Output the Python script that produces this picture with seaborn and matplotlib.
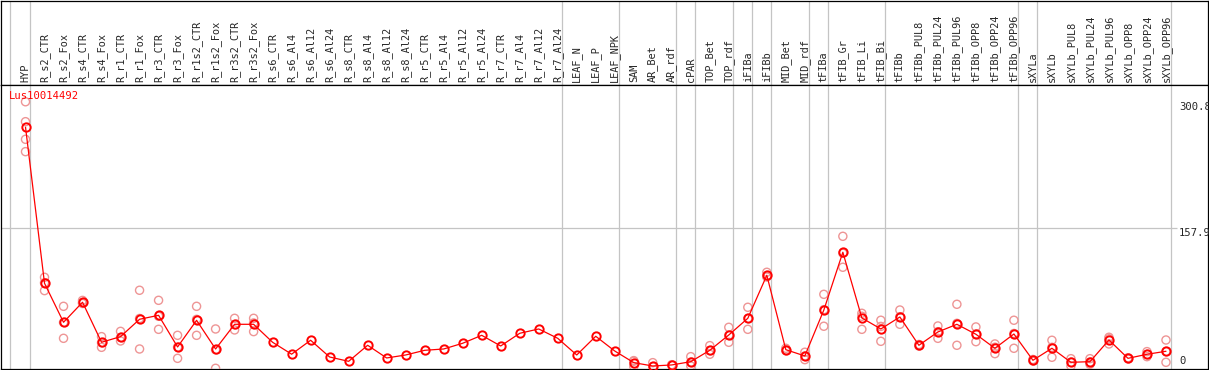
import numpy as np
import pandas as pd
import matplotlib
matplotlib.use('Agg')
import matplotlib.pyplot as plt
import seaborn as sns

samples = ['HYP', 'R_s2_CTR', 'R_s2_Fox', 'R_s4_CTR', 'R_s4_Fox', 'R_r1_CTR', 'R_r1_Fox',
           'R_r3_CTR', 'R_r3_Fox', 'R_r1s2_CTR', 'R_r1s2_Fox', 'R_r3s2_CTR', 'R_r3s2_Fox',
           'R_s6_CTR', 'R_s6_Al4', 'R_s6_Al12', 'R_s6_Al24', 'R_s8_CTR', 'R_s8_Al4',
           'R_s8_Al12', 'R_s8_Al24', 'R_r5_CTR', 'R_r5_Al4', 'R_r5_Al12', 'R_r5_Al24',
           'R_r7_CTR', 'R_r7_Al4', 'R_r7_Al12', 'R_r7_Al24', 'LEAF_N', 'LEAF_P', 'LEAF_NPK',
           'SAM', 'AR_Bet', 'AR_rdf', 'cPAR', 'TOP_Bet', 'TOP_rdf', 'iFIBa', 'iFIBb',
           'MID_Bet', 'MID_rdf', 'tFIBa', 'tFIB_Gr', 'tFIB_Li', 'tFIB_Bi', 'tFIBb',
           'tFIBb_PUL8', 'tFIBb_PUL24', 'tFIBb_PUL96', 'tFIBb_OPP8', 'tFIBb_OPP24',
           'tFIBb_OPP96', 'sXYLa', 'sXYLb', 'sXYLb_PUL8', 'sXYLb_PUL24', 'sXYLb_PUL96',
           'sXYLb_OPP8', 'sXYLb_OPP24', 'sXYLb_OPP96']

means = [272, 94.9, 50.7, 73.4, 28.0, 34.4, 54.1, 58.6, 22.7, 52.9, 20.4, 48.4, 48.4,
         28.0, 14.5, 30.3, 11.3, 6.4, 24.6, 10.2, 13.6, 18.9, 20.4, 26.9, 35.9,
         23.8, 38.2, 43.1, 32.5, 13.6, 34.8, 18.1,
         4.9, 1.1, 2.3, 6.0, 18.9, 36.3, 55.2, 104.0, 19.6, 12.5,
         64.6, 130.1, 55.6, 43.1, 56.7, 24.6, 39.7, 48.4, 37.1, 21.2, 37.4,
         7.6, 21.2, 5.3, 6.0, 30.6, 9.8, 14.4, 17.8]

reps = [[300.8, 278.2, 258.2, 244.2], [101.7, 86.6, 95.5], [68.8, 32.5, 50.5],
        [75.5, 72, 73], [34.4, 22.3, 27.5], [40.4, 29.5, 33.5], [87.0, 20.4, 55],
        [75.6, 42.7, 57.5], [35.9, 9.8, 22.5], [68.8, 35.9, 54], [43.1, -1.5, 19.5],
        [55.2, 42.0, 48.0], [55.2, 40.1, 49.9],
        [], [], [], [], [], [], [], [], [], [], [], [], [], [], [], [], [], [], [],
        [7.2, 0.4, 6.5], [4.9, 0.2], [2.6, 2.0], [11.7, 1.1, 5.5], [24.2, 14.4, 18.5],
        [45.0, 28.0, 36], [67.7, 42.7, 55], [107.4, 102, 103], [21.2, 18.5, 19.2],
        [16.7, 8.3, 12.5], [82.4, 46.2, 65], [148.2, 113.1, 129], [60.9, 42.7, 57.5],
        [53.0, 29.1, 46], [64.6, 48.4, 57], [25.5, 23.8], [46.5, 32.5, 40],
        [71.1, 24.6, 49.5], [45.4, 28.7, 37.2], [26.1, 15.1, 22.4], [53.0, 21.2, 38],
        [8.5, 6.8, 7.5], [30.3, 11.0, 22.3], [9.4, 1.1, 5.4], [9.4, 3.0, 5.6],
        [33.7, 26.1, 32], [10.4, 9.2], [17.4, 11.7, 14.2], [30.6, 5.3, 17.5]]

# group separators (drawn just right of these samples)
sep_after = [-1.08, 0, 28, 31, 34, 35, 37, 38, 39, 41, 42, 45, 52, 53, 60]
y_marks = [300.8, 157.9, 0]
gene = 'Lus10014492'

sns.set_style('white')
plt.rcParams['font.family'] = ['DejaVu Sans Mono', 'DejaVu Sans']

idx = np.arange(len(samples))
df_rep = pd.DataFrame([(i, v) for i, r in enumerate(reps) for v in r], columns=['x', 'value'])

W, H = 1209, 370
fig = plt.figure(figsize=(W / 100, H / 100), dpi=100)
ax_h = fig.add_axes([0.5 / W, 285 / H, 1207.5 / W, 84.5 / H])
ax = fig.add_axes([0.5 / W, 1 / H, 1207.5 / W, 284 / H])

xlim = (-25 / 19, 1182 / 19)
for a in (ax_h, ax):
    a.set_xlim(*xlim)
    for s in a.spines.values():
        s.set_color('black')
        s.set_linewidth(0.9)
    for p in sep_after:
        a.axvline(p + 0.24, color='#c4c4c4', lw=0.9, zorder=0)
ax_h.set_xticks([])
ax_h.set_yticks([])
ax_h.patch.set_visible(False)

ax.set_ylim(-2.3, 319.8)
ax.hlines(157.9, xlim[0], 60.6, color='#c4c4c4', lw=0.9, zorder=0)

sns.scatterplot(data=df_rep, x='x', y='value', ax=ax, marker='o', s=34,
                facecolor='none', edgecolor='#ee9595', linewidth=1.0, zorder=3)
sns.lineplot(x=idx, y=means, ax=ax, color='red', linewidth=0.9, marker='o',
             markersize=6, markerfacecolor='none', markeredgecolor='red',
             markeredgewidth=1.4, zorder=4)

ax.set_xlabel('')
ax.set_ylabel('')
ax.set_yticks([])
ax.set_xticks(idx)
ax.set_xticklabels(samples, rotation=90, fontsize=7.4)
ax.tick_params(axis='x', top=True, labeltop=True, bottom=False, labelbottom=False,
               length=0, pad=2)

ax.text(-0.9, 313, gene, color='red', fontsize=7.6, ha='left', va='top')
for v in y_marks:
    ax.text(60.68, v if v > 0 else 1.5, f'{v:g}', fontsize=7.6, ha='left',
            va='top' if v > 0 else 'bottom')

fig.savefig('out.png', dpi=100)
